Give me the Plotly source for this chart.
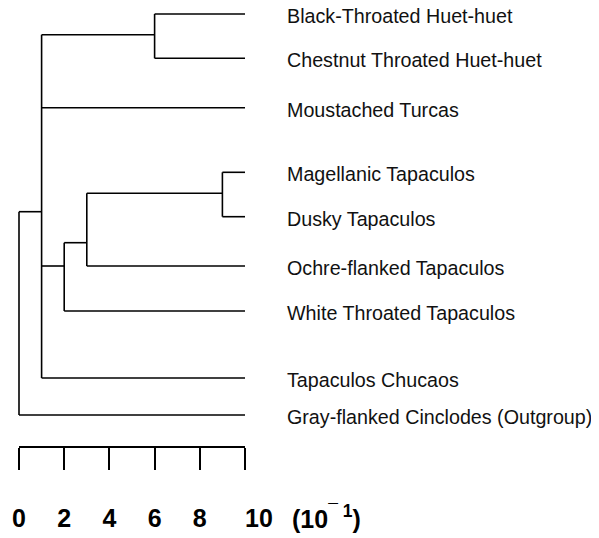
import plotly.graph_objects as go

# ---- data ----
leaf_names = [
    "Black-Throated Huet-huet",
    "Chestnut Throated Huet-huet",
    "Moustached Turcas",
    "Magellanic Tapaculos",
    "Dusky Tapaculos",
    "Ochre-flanked Tapaculos",
    "White Throated Tapaculos",
    "Tapaculos Chucaos",
    "Gray-flanked Cinclodes (Outgroup)",
]
leaf_pos = [14, 58.3, 107.7, 172.3, 216.7, 266, 311, 378, 415]
leaf_depth = 10

node_names = ["root", "main", "A", "B", "C", "D"]
node_depth = [0, 1, 6, 9, 3, 2]
node_join = [None, 211.7, 34.7, 193.3, 242.7, 266]
node_children = [
    ["main", 8],
    ["A", 2, "D", 7],
    [0, 1],
    [3, 4],
    ["B", 5],
    ["C", 6],
]

scale_ticks = [0, 2, 4, 6, 8, 10]
scale_labels = ["0", "2", "4", "6", "8", "\u00a0\u00a0\u00a0\u00a010"]
scale_unit = "(10<sup>\u00af 1</sup>)"

# ---- build tree segments ----
xs, ys = [], []
for i, name in enumerate(node_names):
    px = node_depth[i]
    cys = []
    for c in node_children[i]:
        if isinstance(c, str):
            j = node_names.index(c)
            cx, cy = node_depth[j], node_join[j]
        else:
            cx, cy = leaf_depth, leaf_pos[c]
        cys.append(cy)
        xs += [px, cx, None]
        ys += [cy, cy, None]
    xs += [px, px, None]
    ys += [min(cys), max(cys), None]

# page offset (body margin) compensation
OFF = 8
W, H = 599 - OFF, 538 - OFF
ppu = 22.6
x0 = -(19 - OFF) / ppu
x1 = x0 + W / ppu

fig = go.Figure()
fig.add_trace(go.Scatter(x=xs, y=ys, mode="lines", xaxis="x", yaxis="y",
                         line=dict(color="black", width=1.6),
                         hoverinfo="skip", showlegend=False))
fig.add_trace(go.Scatter(x=scale_ticks, y=[0.5] * len(scale_ticks),
                         xaxis="x2", yaxis="y2", mode="markers",
                         marker=dict(opacity=0), hoverinfo="skip",
                         showlegend=False))

annotations = []
for name, y in zip(leaf_names, leaf_pos):
    annotations.append(dict(x=leaf_depth, y=y, xref="x", yref="y", text=name,
                            showarrow=False, xanchor="left", yanchor="middle",
                            xshift=40, yshift=-2,
                            font=dict(family="Liberation Sans, Arial", size=19.7, color="#111")))
annotations.append(dict(x=10, y=1 - (519.5 - OFF) / H, xref="x2", yref="paper",
                        text="<b>" + scale_unit + "</b>", showarrow=False,
                        xanchor="left", yanchor="middle", xshift=45, yshift=3,
                        font=dict(family="Liberation Sans, Arial", size=25, color="black")))

fig.update_layout(
    template="none",
    width=W, height=H, autosize=False,
    margin=dict(l=0, r=0, t=0, b=0, pad=0, autoexpand=False),
    paper_bgcolor="white", plot_bgcolor="rgba(0,0,0,0)",
    xaxis=dict(range=[x0, x1], visible=False, domain=[0, 1], anchor="y", automargin=False),
    yaxis=dict(range=[538, OFF], visible=False, domain=[0, 1], anchor="x", automargin=False),
    yaxis2=dict(range=[0, 1], visible=False, domain=[0, 0.01], anchor="x2", automargin=False),
    xaxis2=dict(domain=[(19 - OFF) / W, (245 - OFF) / W], range=[0, 10], anchor="free",
                position=1 - (446.7 - OFF) / H, side="bottom", automargin=False,
                showline=True, linecolor="black", linewidth=1.6,
                ticks="outside", ticklen=22, tickwidth=1.6, tickcolor="black",
                tickvals=scale_ticks, ticktext=scale_labels, ticklabelstandoff=27,
                tickfont=dict(family="Liberation Sans, Arial", size=25, color="black", weight="bold"),
                showgrid=False, zeroline=False),
    annotations=annotations,
)

fig.write_html("out.html")
